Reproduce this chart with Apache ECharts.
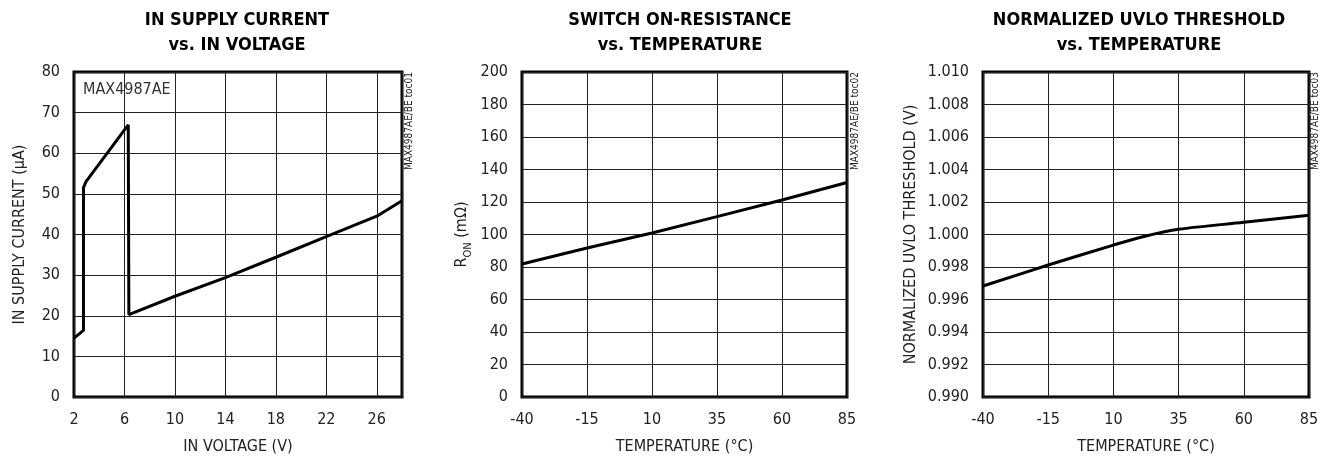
<!DOCTYPE html>
<html>
<head>
<meta charset="utf-8">
<script src="https://cdn.jsdelivr.net/npm/echarts@6/dist/echarts.min.js"></script>
<style>
  html, body { margin: 0; padding: 0; background: #fff; }
  #main { width: 1329px; height: 457px; }
</style>
</head>
<body>
<div id="main"></div>
<script>
// toc01: IN supply current vs IN voltage
var voltage = [2, 2.75, 2.75, 2.95, 6.3, 6.35, 10, 14, 18, 22, 26, 28];
var supplyCurrent = [14.5, 16.4, 51.5, 53, 67, 20.3, 24.8, 29.4, 34.4, 39.5, 44.5, 48.3];

// toc02: switch on-resistance vs temperature
var tempRon = [-40, -15, 10, 35, 60, 85];
var onResistance = [81.8, 91.7, 100.9, 111, 121.2, 132];

// toc03: normalized UVLO threshold vs temperature
var tempUvlo = [-40, -15, 10, 22.5, 35, 60, 85];
var uvloThreshold = [0.99683, 0.99812, 0.99935, 0.99991, 1.00032, 1.00075, 1.00118];

var titles = [
    ['IN SUPPLY CURRENT', 'vs. IN VOLTAGE'],
    ['SWITCH ON-RESISTANCE', 'vs. TEMPERATURE'],
    ['NORMALIZED UVLO THRESHOLD', 'vs. TEMPERATURE']
];
var sideTags = ['MAX4987AE/BE toc01', 'MAX4987AE/BE toc02', 'MAX4987AE/BE toc03'];

(function () {
    var chartDom = document.getElementById('main');
    var myChart = echarts.init(chartDom);
    var option;

    var FONT = '"Liberation Sans Narrow", "Arial Narrow", "DejaVu Sans Condensed", sans-serif';

    function zip(xs, ys) {
        return xs.map(function (x, i) { return [x, ys[i]]; });
    }

    var gridBase = {
        top: 72, height: 325, show: true, borderColor: '#000', borderWidth: 3,
        backgroundColor: '#fff', outerBoundsMode: 'none', containLabel: false
    };
    var splitLine = { show: true, lineStyle: { color: '#222', width: 1 } };
    var labelStyle = { color: '#222', fontFamily: FONT, fontSize: 16 };
    var nameStyle = { color: '#222', fontFamily: FONT, fontSize: 16 };

    function xAxis(idx, min, max, interval, name) {
        return {
            type: 'value', gridIndex: idx, min: min, max: max, interval: interval,
            name: name, nameLocation: 'middle', nameGap: 42, nameTextStyle: nameStyle,
            axisLine: { show: false }, axisTick: { show: false },
            axisLabel: Object.assign({ margin: 15, showMaxLabel: max === 28 ? false : true }, labelStyle),
            splitLine: splitLine
        };
    }

    function yAxis(idx, min, max, interval, name, gap, fmt) {
        return {
            type: 'value', gridIndex: idx, min: min, max: max, interval: interval,
            name: name, nameLocation: 'middle', nameGap: gap, nameRotate: 90,
            nameTextStyle: Object.assign({ rich: { sub: { fontFamily: FONT, fontSize: 11, color: '#222', verticalAlign: 'bottom', padding: [0, 0, -4, 0] } } }, nameStyle),
            axisLine: { show: false }, axisTick: { show: false },
            axisLabel: Object.assign({ margin: 14, formatter: fmt }, labelStyle),
            splitLine: splitLine
        };
    }

    var centers = [237, 680, 1139];
    var tagX = [409, 855, 1315];
    var graphics = [];
    titles.forEach(function (t, i) {
        graphics.push({
            type: 'text', x: centers[i], y: 20, silent: true,
            style: { text: t[0], align: 'center', verticalAlign: 'middle', fill: '#000',
                font: 'bold 18px ' + FONT }
        });
        graphics.push({
            type: 'text', x: centers[i], y: 45, silent: true,
            style: { text: t[1], align: 'center', verticalAlign: 'middle', fill: '#000',
                font: 'bold 18px ' + FONT }
        });
        graphics.push({
            type: 'text', x: tagX[i], y: 72, rotation: Math.PI / 2, silent: true,
            style: { text: sideTags[i], align: 'right', verticalAlign: 'middle', fill: '#222',
                font: '10px ' + FONT }
        });
    });
    graphics.push({
        type: 'text', x: 83, y: 90, silent: true, z: 100,
        style: { text: 'MAX4987AE', align: 'left', verticalAlign: 'middle', fill: '#333',
            font: '16px ' + FONT }
    });

    var lineStyle = { color: '#000', width: 3 };

    option = {
        animation: false,
        backgroundColor: '#fff',
        graphic: graphics,
        grid: [
            Object.assign({ left: 74, width: 328 }, gridBase),
            Object.assign({ left: 522, width: 325 }, gridBase),
            Object.assign({ left: 983, width: 326 }, gridBase)
        ],
        xAxis: [
            xAxis(0, 2, 28, 4, 'IN VOLTAGE (V)'),
            xAxis(1, -40, 85, 25, 'TEMPERATURE (°C)'),
            xAxis(2, -40, 85, 25, 'TEMPERATURE (°C)')
        ],
        yAxis: [
            yAxis(0, 0, 80, 10, 'IN SUPPLY CURRENT (µA)', 46),
            yAxis(1, 0, 200, 20, 'R{sub|ON} (mΩ)', 52),
            yAxis(2, 0.99, 1.01, 0.002, 'NORMALIZED UVLO THRESHOLD (V)', 64,
                function (v) { return v.toFixed(3); })
        ],
        series: [
            {
                type: 'line', xAxisIndex: 0, yAxisIndex: 0, showSymbol: false,
                lineStyle: lineStyle, data: zip(voltage, supplyCurrent)
            },
            {
                type: 'line', xAxisIndex: 1, yAxisIndex: 1, showSymbol: false,
                lineStyle: lineStyle, data: zip(tempRon, onResistance)
            },
            {
                type: 'line', xAxisIndex: 2, yAxisIndex: 2, showSymbol: false, smooth: 0.3,
                lineStyle: lineStyle, data: zip(tempUvlo, uvloThreshold)
            }
        ]
    };

    myChart.setOption(option);
    window.addEventListener('resize', function () {
        myChart.resize();
    });
})();
</script>
</body>
</html>
